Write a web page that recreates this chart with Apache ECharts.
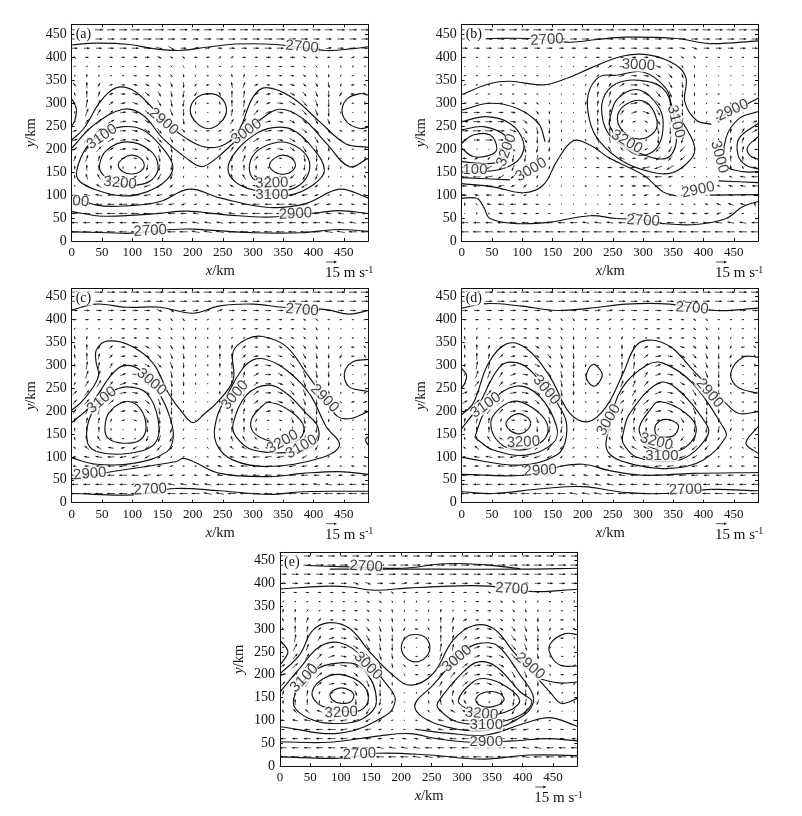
<!DOCTYPE html>
<html><head><meta charset="utf-8">
<style>html,body{margin:0;padding:0;background:#fff}#c{width:802px;height:816px}</style>
<script src="https://cdn.jsdelivr.net/npm/echarts@6/dist/echarts.min.js"></script></head>
<body><div id="c"></div>
<script>
// Wind grid (km). Each wind code = (direction in tens of degrees, 0=E, 9=N, 18=W, 27=S) * 10 + length digit.
const windX=[5,25,45,65,85,105,125,145,165,185,205,225,245,265,285,305,325,345,365,385,405,425,445,465,485];
const windY=[460,440,420,400,380,360,340,320,300,280,260,240,220,200,180,160,140,120,100,80,60,40,20];
const xTicks=[0,50,100,150,200,250,300,350,400,450];
const yTicks=[0,50,100,150,200,250,300,350,400,450];

const windA=[
[7,7,7,7,7,8,8,8,7,7,7,7,7,7,7,8,8,8,8,7,7,7,7,7,7],
[6,6,6,6,6,6,7,7,6,5,5,6,6,6,6,6,7,7,6,6,5,5,6,6,6],
[5,5,5,5,6,6,6,346,336,5,15,25,4,5,5,5,6,6,6,345,5,15,5,5,5],
[303,3,3,3,3,4,4,344,333,323,3,13,43,33,3,3,4,4,4,333,333,3,13,23,13],
[52,42,32,2,2,2,3,333,322,312,292,282,12,52,42,2,3,3,3,332,312,282,292,72,62],
[122,93,72,32,2,3,3,333,313,283,242,182,132,103,73,32,3,3,3,333,303,273,242,182,142],
[134,95,64,23,3,354,334,314,294,275,233,193,143,105,75,34,3,354,344,324,304,285,243,193,153],
[113,96,75,34,4,345,325,305,285,266,244,184,124,96,86,45,14,354,335,315,295,276,244,184,144],
[102,87,76,45,14,345,325,306,286,266,263,182,103,96,86,56,24,355,336,316,296,277,263,182,103],
[92,77,66,45,15,355,325,316,296,276,272,1,92,86,76,56,25,355,335,316,296,277,272,1,92],
[32,55,56,36,15,355,335,315,306,285,322,2,42,65,66,46,15,355,335,325,305,295,312,2,52],
[24,46,46,36,5,355,336,316,306,314,333,3,33,45,56,46,16,5,345,326,316,305,333,3,13],
[25,46,46,36,15,356,336,316,305,313,332,2,33,55,56,36,15,355,336,316,306,314,332,2,23],
[45,66,56,35,15,355,325,296,286,283,302,32,62,65,66,46,25,355,325,306,286,284,302,32,53],
[75,76,75,54,13,353,304,286,276,262,2,62,83,85,76,55,23,353,304,286,276,263,1,62,83],
[93,95,95,94,92,272,265,266,265,262,1,92,93,95,95,94,92,1,272,265,266,265,262,1,92],
[103,115,125,154,183,203,225,246,255,252,1,122,113,115,125,154,183,203,225,246,255,252,1,122,113],
[142,144,155,176,186,196,206,216,224,222,1,143,143,154,165,176,186,196,206,216,224,222,1,142,143],
[173,175,176,186,187,187,196,195,204,212,182,172,173,175,176,186,187,187,196,195,204,192,182,172,173],
[184,185,186,186,187,187,186,186,195,204,203,183,173,174,175,186,186,187,187,196,205,194,183,173,174],
[185,186,186,187,187,187,187,186,186,185,175,175,175,176,186,187,187,187,187,186,185,175,175,175,185],
[186,186,186,186,186,186,186,186,186,186,176,176,176,186,186,186,186,186,186,186,186,176,176,176,186],
[187,187,187,187,187,187,187,187,187,187,177,177,177,187,187,187,187,187,187,187,187,177,177,187,187]];

const windB=[
[7,7,7,7,7,7,7,7,7,7,7,7,7,7,7,7,7,7,7,7,7,7,7,7,7],
[6,6,6,6,6,6,6,6,6,6,6,6,6,6,6,6,6,6,6,6,6,6,6,6,6],
[5,5,5,5,5,5,5,5,4,4,4,4,4,5,5,5,5,5,355,345,5,5,5,5,5],
[2,2,2,2,2,2,2,2,2,2,2,3,3,3,4,4,4,3,333,323,2,2,2,2,2],
[1,1,1,1,1,1,1,1,1,1,22,33,34,4,5,355,345,325,303,282,1,1,1,1,1],
[12,2,2,2,2,2,2,1,1,21,32,53,44,25,5,355,335,315,294,273,11,1,1,1,12],
[22,12,2,2,2,1,1,1,1,21,52,74,64,35,6,346,326,306,285,272,242,1,1,1,22],
[32,22,12,2,2,352,342,331,1,71,72,85,75,46,6,346,316,296,276,273,232,182,141,111,42],
[13,3,3,3,353,343,323,302,271,81,83,85,76,46,16,346,316,286,276,272,242,192,132,81,22],
[5,5,5,4,354,334,314,283,271,91,92,85,86,55,25,346,306,286,276,273,252,182,122,71,13],
[6,6,6,5,355,325,295,284,272,91,92,96,86,64,23,333,306,276,266,272,232,142,93,62,24],
[6,7,7,6,346,316,286,275,272,81,92,96,96,73,1,303,286,276,266,262,1,102,84,65,35],
[34,5,6,5,335,306,276,265,272,91,112,116,105,102,1,262,276,266,256,252,1,93,85,75,54],
[121,1,1,353,315,286,266,264,262,121,122,125,125,134,173,213,236,246,236,232,1,83,85,85,91],
[184,204,233,254,266,266,266,263,261,141,152,153,154,165,183,204,225,235,225,212,41,83,95,94,123],
[186,195,216,236,256,256,255,263,261,1,182,183,184,184,186,197,207,217,214,192,41,102,104,123,174],
[186,187,197,216,225,246,253,252,271,271,1,182,183,184,185,186,186,194,192,161,1,142,163,175,186],
[185,186,186,195,204,224,242,251,281,291,2,1,172,183,184,186,196,202,201,151,142,163,174,175,185],
[174,174,185,185,193,203,232,261,301,341,1,1,172,182,183,194,203,202,192,172,152,163,164,174,174],
[93,132,174,185,185,184,183,182,221,1,1,1,172,182,193,193,193,192,172,162,163,164,165,165,104],
[31,92,122,174,184,184,183,182,182,182,182,182,183,183,183,184,184,174,174,184,194,204,203,192,51],
[186,186,186,186,186,186,186,186,186,186,176,176,176,186,186,186,186,186,186,186,186,176,176,176,186],
[187,187,187,187,187,187,187,187,187,187,187,187,187,187,187,187,187,187,187,187,187,187,187,187,187]];

const windC=[
[7,7,7,7,7,7,7,7,7,7,7,7,7,7,7,7,7,7,7,7,7,7,7,7,7],
[6,6,6,6,6,6,6,6,6,6,6,6,6,6,6,6,6,6,6,6,6,6,6,6,6],
[5,5,5,5,5,5,5,345,335,4,15,35,25,5,5,5,5,5,355,345,5,5,5,5,5],
[3,3,3,3,3,3,3,333,323,313,2,32,42,23,3,3,3,3,3,333,323,2,2,12,12],
[62,52,32,2,3,3,3,323,313,292,272,82,72,42,3,3,3,3,3,333,303,282,1,1,22],
[103,83,62,32,3,3,353,333,313,293,272,92,92,62,32,3,3,353,343,323,293,272,232,192,132],
[104,95,74,44,4,354,334,314,304,284,272,92,94,84,44,3,353,334,324,304,294,273,233,183,143],
[104,96,85,54,14,354,334,315,295,285,272,92,95,95,54,14,354,344,325,305,285,274,244,183,123],
[93,87,86,65,25,354,335,315,296,275,272,92,94,96,75,24,355,335,325,305,285,275,262,182,82],
[83,77,77,65,25,355,325,306,286,274,272,92,93,96,85,35,5,335,315,296,286,275,252,1,82],
[63,66,67,55,26,355,325,296,286,274,272,91,93,96,86,45,5,345,315,296,286,274,282,12,52],
[45,56,57,46,16,355,325,296,276,273,271,91,93,95,86,46,5,345,315,296,276,274,292,32,33],
[55,56,56,46,15,355,325,296,276,272,1,91,93,95,75,45,5,345,315,296,276,273,312,23,24],
[65,76,76,55,14,354,315,286,276,272,1,91,92,95,85,54,14,344,315,286,276,273,302,42,43],
[84,85,85,73,23,343,295,286,266,262,1,91,92,95,94,63,12,343,295,286,276,263,282,52,62],
[93,95,95,92,1,272,275,266,256,252,1,91,92,95,95,93,1,272,275,266,266,252,242,1,82],
[103,115,125,143,182,222,255,256,246,232,1,91,103,115,125,143,182,222,245,256,256,243,232,1,141],
[143,145,155,175,194,215,225,236,234,212,1,132,143,145,155,165,185,205,225,236,245,243,211,1,141],
[173,175,176,186,196,206,215,224,222,202,1,162,163,174,175,186,196,196,205,215,223,212,192,162,162],
[183,184,185,186,197,196,205,204,203,192,172,173,174,175,186,196,196,196,196,195,194,193,182,173,173],
[185,185,186,186,187,186,196,195,194,183,173,174,175,176,186,186,186,186,186,186,185,184,184,184,184],
[186,186,186,186,186,186,186,186,176,176,176,176,186,186,186,186,186,186,186,186,176,176,186,186,186],
[187,187,187,187,187,187,187,187,187,187,187,177,177,187,187,187,187,187,187,187,187,187,187,187,187]];

const windD=[
[7,7,7,7,7,7,7,7,7,7,7,7,7,7,7,7,7,7,7,7,7,7,7,7,7],
[6,6,6,6,6,6,6,6,6,6,6,6,6,6,6,6,6,6,6,6,6,6,6,6,6],
[5,5,5,5,5,5,5,345,5,5,5,15,15,5,5,5,5,5,345,345,5,5,5,5,5],
[3,3,3,3,3,3,333,333,323,313,3,13,33,23,3,3,3,3,3,333,323,2,2,2,12],
[92,62,32,2,3,3,3,333,313,292,262,172,72,62,32,3,3,3,3,333,313,282,242,182,142],
[103,83,52,23,3,3,353,333,303,283,252,192,92,83,52,2,3,3,3,333,303,283,242,192,142],
[104,95,74,34,4,354,334,314,294,274,242,182,102,94,74,34,4,354,344,324,294,274,243,193,143],
[93,96,85,45,14,354,334,315,295,275,242,182,112,95,85,45,15,354,335,315,295,275,244,183,123],
[83,87,86,55,15,355,335,315,295,276,263,182,102,96,86,55,25,355,335,315,295,276,263,182,93],
[82,77,77,65,25,355,325,306,286,276,272,1,92,87,86,65,25,355,335,315,296,276,272,1,92],
[32,56,66,55,26,355,325,306,286,275,282,2,62,76,76,56,25,355,335,316,296,276,292,2,52],
[25,46,56,46,16,356,326,306,286,274,302,2,42,55,66,46,26,355,326,306,286,275,312,3,23],
[35,46,56,46,16,355,325,296,286,273,322,2,32,45,66,46,15,355,325,306,286,275,322,2,13],
[55,66,66,55,15,355,315,296,276,272,1,42,62,75,76,56,15,345,315,296,276,274,292,32,52],
[84,85,85,73,13,343,295,286,276,263,1,72,83,85,85,64,23,353,305,286,276,264,252,52,72],
[93,95,95,93,172,272,275,266,266,253,1,91,93,95,95,94,52,1,272,275,266,266,253,92,92],
[103,115,125,153,182,222,255,256,246,232,1,111,113,115,125,144,172,202,235,256,256,243,222,1,132],
[143,145,155,175,185,205,225,236,234,212,1,142,143,145,155,165,185,195,215,226,235,233,212,152,152],
[163,175,176,186,196,196,206,215,223,202,172,172,173,175,176,186,186,196,206,215,224,212,192,172,172],
[183,184,185,186,187,196,195,204,193,182,172,173,174,175,186,186,196,196,196,195,194,193,183,183,183],
[185,185,186,186,187,186,186,185,184,183,174,174,175,176,186,186,186,186,186,186,185,185,185,185,185],
[186,186,186,186,186,186,186,186,186,176,176,176,176,186,186,186,186,186,186,186,186,186,186,186,186],
[187,187,187,187,187,187,187,187,187,177,177,177,187,187,187,187,187,187,187,187,187,187,187,187,187]];

const windE=[
[6,6,6,6,6,6,6,6,6,6,6,6,6,6,6,6,6,6,6,6,6,6,6,6,6],
[7,7,7,7,7,7,7,7,7,7,7,7,7,7,7,7,7,7,7,7,7,7,7,7,7],
[6,6,6,6,6,6,6,6,6,6,6,6,6,6,6,6,6,6,6,6,6,6,6,6,6],
[5,5,5,5,5,5,345,345,5,5,15,15,5,5,5,5,5,345,345,5,5,5,5,5,5],
[3,3,3,3,3,3,3,333,333,323,3,13,13,3,3,3,3,333,333,323,3,2,2,2,2],
[62,42,22,2,2,2,2,333,323,292,272,72,62,42,2,2,3,3,333,313,292,262,182,142,92],
[83,83,52,32,3,3,3,333,313,283,252,172,92,83,42,2,3,3,333,313,293,272,232,182,132],
[113,95,75,44,3,353,343,323,303,284,252,182,122,95,75,34,3,353,333,313,293,274,243,183,143],
[123,96,85,54,14,354,334,315,295,285,243,183,123,96,85,44,14,354,334,315,295,285,243,183,143],
[122,87,86,65,25,355,325,306,286,276,253,182,112,96,86,55,25,355,335,316,296,276,253,183,122],
[2,67,76,65,25,355,335,306,286,276,272,1,92,87,86,65,25,355,335,316,296,276,272,1,92],
[32,56,66,56,26,355,335,316,296,285,312,2,52,76,76,56,25,355,335,316,296,285,302,2,42],
[34,46,56,46,16,356,326,316,296,284,323,3,33,55,66,46,16,355,335,316,296,295,313,3,33],
[25,56,56,46,15,355,325,306,296,284,322,3,23,55,56,46,15,355,325,306,296,294,322,3,33],
[55,66,66,45,15,355,315,296,276,273,1,42,62,65,66,46,15,345,315,296,286,274,292,33,63],
[84,85,85,73,23,343,295,286,276,263,1,72,83,85,85,64,23,353,295,286,276,264,272,72,82],
[93,95,95,93,172,272,275,266,266,253,1,91,103,105,115,124,172,232,265,266,266,255,252,92,102],
[123,135,145,165,185,205,235,246,246,232,1,131,133,145,155,175,195,215,235,246,246,243,232,1,141],
[163,175,176,186,196,196,206,215,224,202,1,172,173,175,176,186,186,196,206,215,224,222,202,162,162],
[183,184,185,186,187,196,195,195,193,182,172,173,174,175,186,186,196,196,196,195,195,193,183,173,173],
[185,185,186,186,187,186,186,185,184,183,174,174,175,176,186,186,186,186,186,186,185,184,184,184,184],
[186,186,186,186,186,186,186,186,176,176,176,176,186,186,186,186,186,186,186,186,176,176,186,186,186],
[187,187,187,187,187,187,187,187,187,187,187,177,177,187,187,187,187,187,187,187,177,187,187,187,187]];

// Contour lines [x km, y km]
const contoursA=[
[[0,427],[41,431],[96,428],[135,419],[179,415],[223,422],[272,429],[338,428],[421,415],[465,419],[490,423]],
[[0,220],[20,245],[47,303],[74,334],[102,328],[135,288],[150,265],[190,223],[223,204],[255,212],[278,245],[300,314],[322,334],[365,312],[409,261],[453,212],[490,204]],
[[0,202],[36,252],[85,287],[118,274],[151,223],[190,180],[215,162],[239,180],[267,213],[311,263],[344,287],[382,267],[421,213],[459,162],[490,180]],
[[8,151],[25,205],[52,234],[85,249],[118,242],[146,209],[167,165],[157,133],[124,107],[85,98],[41,111],[14,129],[8,151]],
[[46,165],[58,198],[91,216],[129,198],[143,162],[132,133],[107,122],[74,126],[52,144],[46,165]],
[[77,165],[85,180],[99,187],[113,181],[120,165],[113,151],[99,146],[85,151],[77,165]],
[[259,151],[267,187],[300,230],[333,247],[366,242],[399,202],[418,154],[399,122],[360,100],[316,107],[278,122],[259,151]],
[[294,165],[305,194],[333,213],[360,213],[388,187],[393,154],[377,122],[349,111],[322,126],[300,136],[294,165]],
[[327,165],[335,180],[349,187],[363,181],[370,165],[363,151],[349,145],[335,151],[327,165]],
[[196,284],[205,310],[226,321],[247,312],[256,284],[246,258],[226,245],[206,258],[196,284]],
[[490,318],[477,321],[456,310],[447,284],[456,258],[477,245],[490,248]],
[[0,310],[6,295],[8,284],[5,262],[0,250]],
[[0,100],[41,78],[96,77],[146,86],[195,113],[245,94],[327,73],[388,82],[443,113],[490,94]],
[[0,64],[52,54],[135,59],[190,65],[256,57],[327,52],[410,62],[443,66],[490,60]],
[[0,20],[60,18],[100,17],[166,25],[200,26],[300,18],[380,18],[440,25],[490,21]]];

const contoursB=[
[[41,441],[112,441],[179,433],[223,439],[272,444],[355,441],[410,430],[490,436]],
[[0,319],[47,343],[80,348],[135,340],[173,354],[212,376],[267,403],[311,405],[355,383],[371,354],[369,303],[388,263],[413,254]],
[[421,267],[460,290],[490,311]],
[[0,285],[47,300],[91,289],[127,256],[138,216]],
[[0,125],[52,118],[102,105],[135,122],[157,173],[184,218],[212,209],[245,180],[300,144],[333,107],[355,98]],
[[425,131],[490,127]],
[[228,358],[209,318],[212,260],[228,217],[267,173],[311,151],[349,149],[380,180],[385,206],[371,246],[349,289],[338,332],[300,368],[256,361],[228,358]],
[[234,310],[234,260],[250,223],[289,194],[338,180],[355,216],[349,282],[333,332],[294,350],[256,343],[234,310]],
[[245,267],[258,310],[294,329],[327,289],[333,245],[322,202],[294,187],[267,209],[245,250],[245,267]],
[[258,274],[278,302],[305,302],[322,267],[319,238],[294,222],[267,238],[258,274]],
[[0,260],[41,271],[80,256],[102,216],[96,180],[69,158],[30,151],[0,151]],
[[0,242],[36,249],[74,227],[75,200],[63,173],[30,169],[0,173]],
[[0,213],[19,231],[47,231],[58,202],[47,187],[19,184],[0,202]],
[[0,138],[80,133]],
[[0,93],[25,93],[36,75],[47,49],[91,38],[146,41],[212,55],[256,49],[300,46],[333,38],[388,36],[437,49],[465,75],[490,86]],
[[490,282],[459,267],[437,224],[437,165],[465,151],[490,151]],
[[490,256],[459,224],[457,187],[470,165],[490,157]],
[[490,227],[473,205],[476,187],[490,178]],
[[410,100],[490,101]]];

const contoursC=[
[[0,421],[41,434],[91,427],[146,427],[201,414],[245,430],[300,434],[349,427],[421,422],[459,412],[490,420]],
[[0,202],[19,224],[44,275],[40,310],[41,334],[58,353],[96,344],[135,304],[160,239],[184,195],[201,175],[220,195],[239,217],[267,268],[267,330],[289,357],[316,363],[355,341],[388,283],[418,228],[440,188],[462,184],[490,199]],
[[0,175],[30,210],[63,275],[85,299],[113,290],[146,235],[162,188],[168,144],[157,111],[102,86],[41,84],[0,98]],
[[25,137],[33,195],[63,239],[91,253],[124,239],[143,181],[138,130],[96,108],[41,112],[25,137]],
[[55,166],[63,199],[91,221],[113,206],[123,166],[113,137],[85,130],[60,141],[55,166]],
[[281,290],[300,312],[322,313],[355,290],[393,239],[421,166],[443,126],[410,97],[327,79],[267,93],[239,130],[239,181],[256,232],[281,290]],
[[267,173],[289,235],[325,257],[355,239],[388,195],[407,166],[404,130],[371,111],[300,115],[272,144],[267,173]],
[[297,181],[311,206],[325,219],[355,206],[382,173],[380,144],[355,130],[322,137],[300,155],[297,181]],
[[490,313],[465,308],[451,283],[459,253],[490,243]],
[[490,144],[486,137],[490,126]],
[[0,52],[58,66],[173,90],[184,97],[201,90],[245,64],[327,57],[382,64],[443,68],[490,62]],
[[0,20],[102,17],[170,31],[245,26],[327,18],[382,24],[490,25]]];

const contoursD=[
[[0,425],[41,435],[96,430],[157,420],[212,425],[272,434],[344,434],[421,420],[490,425]],
[[0,192],[19,217],[44,304],[74,347],[107,337],[146,275],[179,195],[209,177],[239,210],[267,283],[289,344],[316,355],[349,337],[382,290],[437,217],[459,195],[490,199]],
[[0,162],[25,206],[63,297],[91,306],[118,283],[168,195],[173,144],[157,104],[96,82],[0,99]],
[[242,111],[289,82],[344,75],[399,93],[437,144],[432,166],[382,261],[333,305],[305,300],[265,250],[245,170],[242,111]],
[[22,144],[47,217],[91,255],[129,232],[157,166],[151,130],[107,104],[52,115],[27,137],[22,144]],
[[48,173],[63,206],[91,222],[129,195],[143,159],[129,130],[96,115],[63,130],[48,173]],
[[74,177],[91,194],[107,188],[114,173],[105,155],[91,151],[77,162],[74,177]],
[[267,151],[278,195],[325,261],[355,250],[404,173],[407,148],[377,104],[344,90],[289,100],[267,130],[267,151]],
[[294,166],[311,202],[327,221],[371,195],[388,159],[371,122],[344,111],[311,122],[297,144],[294,166]],
[[321,170],[338,182],[358,170],[352,148],[336,143],[322,148],[321,170]],
[[206,279],[217,302],[231,286],[231,272],[220,255],[209,264],[206,279]],
[[490,318],[465,318],[445,283],[456,253],[490,239]],
[[0,293],[8,279],[5,261],[0,250]],
[[490,166],[470,130],[490,108]],
[[0,62],[102,60],[162,79],[201,84],[245,70],[300,60],[382,64],[490,66]],
[[0,24],[52,20],[135,31],[201,35],[272,22],[333,20],[413,29],[490,26]]];

const contoursE=[
[[43,439],[115,436],[203,433],[270,443],[335,441],[396,432]],
[[82,431],[250,431],[400,431],[490,433]],
[[0,388],[82,394],[115,392],[154,385],[214,390],[280,394],[343,394],[418,382],[490,387]],
[[0,202],[32,243],[54,297],[82,314],[115,301],[148,250],[186,199],[216,177],[252,202],[285,275],[318,307],[352,301],[385,250],[445,162],[464,137],[490,148]],
[[430,190],[460,182],[490,184]],
[[0,162],[32,213],[65,261],[99,270],[135,240],[181,170],[190,144],[175,111],[98,72],[0,86]],
[[222,130],[252,177],[302,250],[327,268],[358,264],[396,199],[418,148],[402,111],[340,78],[258,92],[222,130]],
[[225,80],[275,72],[340,68],[402,93],[445,106],[490,87]],
[[22,141],[54,206],[98,226],[137,213],[159,141],[137,104],[98,93],[48,104],[22,141]],
[[53,162],[71,191],[101,200],[137,177],[145,141],[126,119],[82,126],[62,137],[53,162]],
[[83,159],[101,171],[121,159],[117,141],[101,137],[87,144],[83,159]],
[[261,141],[302,206],[327,228],[357,217],[396,162],[415,141],[396,111],[346,93],[291,97],[261,126],[261,141]],
[[294,144],[318,184],[340,191],[374,173],[395,144],[379,122],[340,111],[307,126],[294,144]],
[[323,148],[340,162],[362,159],[369,144],[351,130],[329,133],[323,148]],
[[200,259],[207,281],[223,288],[240,281],[247,259],[240,238],[223,228],[207,238],[200,259]],
[[490,288],[470,290],[448,272],[444,250],[461,221],[490,219]],
[[0,275],[13,250],[0,221]],
[[0,53],[82,52],[164,66],[214,71],[258,60],[316,52],[385,55],[440,60],[490,55]],
[[0,20],[98,17],[161,28],[247,24],[330,15],[412,24],[490,23]]];

// Contour labels [x km, y km, text, rotation deg]
const labelsA=[[381,423,'2700',-5],[152,260,'2900',-40],[50,227,'3100',35],[289,238,'3000',35],[80,126,'3200',-5],[331,126,'3200',2],[331,100,'3100',0],[370,59,'2900',3],[15,86,'00',-5],[130,22,'2700',3]];
const labelsB=[[141,438,'2700',3],[292,383,'3000',-3],[354,260,'3100',-75],[448,285,'2900',25],[74,198,'3200',70],[115,155,'3000',30],[22,155,'100',0],[273,216,'3200',-30],[391,111,'2900',12],[300,44,'2700',-3],[426,183,'3000',-75]];
const labelsC=[[381,421,'2700',-4],[132,264,'3000',-40],[50,224,'3100',40],[270,235,'3000',50],[418,228,'2900',-45],[349,133,'3200',30],[380,122,'3100',30],[30,63,'2900',5],[130,29,'2700',3]];
const labelsD=[[381,425,'2700',-4],[140,246,'3000',-50],[40,213,'3100',35],[243,181,'3000',60],[410,239,'2900',-50],[102,132,'3200',3],[322,133,'3200',-15],[331,102,'3100',0],[130,70,'2900',3],[370,28,'2700',2]];
const labelsE=[[142,437,'2700',-3],[382,388,'2700',-3],[40,192,'3100',45],[145,219,'3000',-45],[292,235,'3000',40],[412,219,'2900',-40],[101,117,'3200',3],[332,114,'3200',-5],[340,90,'3100',0],[340,52,'2900',0],[131,26,'2700',3]];

const panels=[
 {tag:'(a)',left:71.7,top:24.3,w:296.3,h:216.7,ymax:472,wind:windA,cont:contoursA,lab:labelsA},
 {tag:'(b)',left:461.7,top:24.3,w:296.3,h:216.7,ymax:472,wind:windB,cont:contoursB,lab:labelsB},
 {tag:'(c)',left:71.7,top:288.5,w:296.3,h:214.2,ymax:468,wind:windC,cont:contoursC,lab:labelsC},
 {tag:'(d)',left:461.7,top:288.5,w:296.3,h:214.2,ymax:468,wind:windD,cont:contoursD,lab:labelsD},
 {tag:'(e)',left:280,top:552.3,w:297.3,h:213.7,ymax:468,wind:windE,cont:contoursE,lab:labelsE}];

const serif='"Liberation Serif"', sans='"Liberation Sans"', ink='#111';
const opt={animation:false,backgroundColor:'#fff',grid:[],xAxis:[],yAxis:[],series:[],graphic:[]};

function arrow(params,api){
  const p=api.coord([api.value(0),api.value(1)]);
  const code=api.value(2), a=Math.floor(code/10)*Math.PI/18, len=(code%10)*1.15;
  const dx=Math.cos(a)*len/2, dy=-Math.sin(a)*len/2;
  const tip=[p[0]+dx,p[1]+dy], h=Math.min(2.6,len*0.6);
  const ca=Math.cos(a), sa=-Math.sin(a);
  return {type:'group',children:[
    {type:'line',shape:{x1:p[0]-dx,y1:p[1]-dy,x2:tip[0],y2:tip[1]},style:{stroke:'#222',lineWidth:0.8}},
    {type:'polygon',shape:{points:[tip,[tip[0]-ca*h-sa*h*0.4,tip[1]-sa*h+ca*h*0.4],[tip[0]-ca*h+sa*h*0.4,tip[1]-sa*h-ca*h*0.4]]},style:{fill:'#111'}}
  ]};
}

// One spline segment from each contour point to the next, through the axis scales.
function contourItem(pts){
  const closed=pts[0][0]===pts[pts.length-1][0]&&pts[0][1]===pts[pts.length-1][1];
  const n=pts.length, t=0.38;
  return function(params,api){
    const i=params.dataIndex;
    if(i>=n-1) return null;
    const at=k=>{
      if(closed){k=(k+(n-1))%(n-1);}
      else k=Math.max(0,Math.min(n-1,k));
      return api.coord(pts[k]);
    };
    const p0=at(i-1),p1=at(i),p2=at(i+1),p3=at(i+2);
    const d=(a,b)=>Math.hypot(a[0]-b[0],a[1]-b[1])||1;
    const d01=d(p0,p1),d12=d(p1,p2),d23=d(p2,p3);
    const k1=t*2*d12/(d01+d12), k2=t*2*d12/(d12+d23);
    return {type:'bezierCurve',shape:{x1:p1[0],y1:p1[1],x2:p2[0],y2:p2[1],
      cpx1:p1[0]+(p2[0]-p0[0])*k1/2,cpy1:p1[1]+(p2[1]-p0[1])*k1/2,
      cpx2:p2[0]-(p3[0]-p1[0])*k2/2,cpy2:p2[1]-(p3[1]-p1[1])*k2/2},
      style:{fill:null,stroke:'#111',lineWidth:1.15}};
  };
}

panels.forEach((P,i)=>{
  opt.grid.push({left:P.left,top:P.top,width:P.w,height:P.h,containLabel:false});
  const tick={show:true,inside:true,length:3,lineStyle:{color:'#111',width:1}};
  const line={show:true,onZero:false,lineStyle:{color:'#111',width:1}};
  opt.xAxis.push({type:'value',gridIndex:i,min:0,max:490,interval:xTicks[1]-xTicks[0],axisLine:line,axisTick:tick,axisLabel:{show:true,color:'#111',fontFamily:serif,fontSize:13,margin:5,showMaxLabel:false},splitLine:{show:false}});
  opt.xAxis.push({type:'value',gridIndex:i,position:'top',min:0,max:490,interval:50,axisLine:line,axisTick:tick,axisLabel:{show:false},splitLine:{show:false}});
  opt.yAxis.push({type:'value',gridIndex:i,min:0,max:P.ymax,interval:yTicks[1]-yTicks[0],axisLine:line,axisTick:tick,axisLabel:{show:true,color:'#111',fontFamily:serif,fontSize:14,margin:5,showMaxLabel:false},splitLine:{show:false}});
  opt.yAxis.push({type:'value',gridIndex:i,position:'right',min:0,max:P.ymax,interval:50,axisLine:line,axisTick:tick,axisLabel:{show:false},splitLine:{show:false}});
  const xi=i*2, yi=i*2;
  const data=[];
  P.wind.forEach((row,r)=>row.forEach((c,k)=>data.push([windX[k],windY[r],c])));
  opt.series.push({type:'custom',xAxisIndex:xi,yAxisIndex:yi,renderItem:arrow,data:data,clip:true,silent:true,z:2,encode:{x:0,y:1}});
  P.cont.forEach(c=>opt.series.push({type:'custom',xAxisIndex:xi,yAxisIndex:yi,renderItem:contourItem(c),data:c,clip:true,silent:true,z:3,encode:{x:0,y:1}}));
  opt.series.push({type:'scatter',xAxisIndex:xi,yAxisIndex:yi,symbolSize:1,itemStyle:{color:'rgba(0,0,0,0)'},silent:true,z:5,clip:false,
    data:P.lab.map(l=>({value:[l[0],l[1]],label:{show:true,position:'inside',rotate:l[3],formatter:l[2],fontFamily:sans,fontSize:15,color:ink,backgroundColor:'#fff',padding:[-1,0,-1,0]}}))});
  const r=P.left+P.w, b=P.top+P.h;
  const rich={i:{font:'italic 14.5px '+serif,fill:ink},n:{font:'14.5px '+serif,fill:ink}};
  opt.graphic.push(
    {type:'text',z:20,left:P.left+3,top:P.top+3,style:{text:P.tag,font:'14px '+serif,fill:ink,backgroundColor:'#fff',padding:[0,2,0,1]}},
    {type:'text',z:20,left:P.left+P.w/2-14,top:b+23,style:{rich:rich,text:'{i|x}{n|/km}'}},
    {type:'text',z:20,x:P.left-41,y:P.top+P.h/2,rotation:Math.PI/2,style:{rich:rich,text:'{i|y}{n|/km}',align:'center',verticalAlign:'middle'}},
    {type:'text',z:20,left:r-43,top:b+24,style:{rich:{n:{font:'15px '+serif,fill:ink},s:{font:'10px '+serif,fill:ink,verticalAlign:'top',padding:[0,0,6,0]}},text:'{n|15 m s}{s|-1}'}},
    {type:'line',z:20,shape:{x1:r-42,y1:b+21,x2:r-32,y2:b+21},style:{stroke:'#222',lineWidth:0.8}},
    {type:'polygon',z:20,shape:{points:[[r-31,b+21],[r-34,b+19.6],[r-34,b+22.4]]},style:{fill:'#222'}}
  );
});
echarts.init(document.getElementById('c'),null,{renderer:'canvas'}).setOption(opt);
</script></body></html>
